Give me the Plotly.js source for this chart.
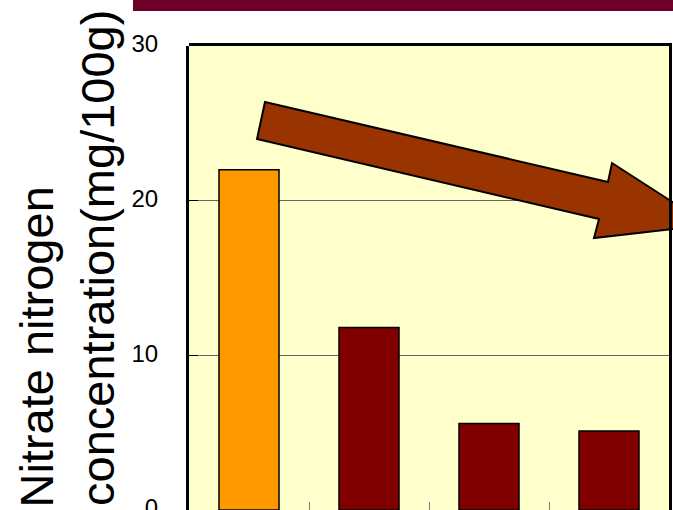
<!DOCTYPE html>
<html>
<head>
<meta charset="utf-8">
<script src="https://cdn.plot.ly/plotly-3.0.1.min.js"></script>
<style>html,body{margin:0;padding:0;background:#fff;}#chart{width:673px;height:510px;}</style>
</head>
<body>
<div id="chart"></div>
<script>
// Data
var categories = ["1", "2", "3", "4"];
var nitrateValues = [22.0, 11.8, 5.6, 5.1];
var barColors = ["#FF9900", "#800000", "#800000", "#800000"];
var yTickValues = [0, 10, 20, 30];
var yTickLabels = ["0", "10", "20", "30"];
var yTitleLines = ["Nitrate nitrogen", "concentration(mg/100g)"];

var trace = {
  type: "bar",
  x: categories,
  y: nitrateValues,
  marker: { color: barColors, line: { color: "#000000", width: 1.5 } },
  hoverinfo: "skip"
};

// decorative arrow (paper coordinates)
var arrowPts = [
  [0.1583, 0.8793], [0.8729, 0.7069], [0.8813, 0.7478], [1.0813, 0.6142],
  [0.8438, 0.5862], [0.8542, 0.6272], [0.1417, 0.7996]
];
var arrowPath = arrowPts.map(function (p, i) { return (i ? "L" : "M") + p[0] + "," + p[1]; }).join(" ") + " Z";

var layout = {
  width: 673, height: 510,
  margin: { l: 189, r: 4, t: 46, b: 0, pad: 0 },
  paper_bgcolor: "#FFFFFF",
  plot_bgcolor: "#FFFFCC",
  showlegend: false,
  bargap: 0.5,
  font: { family: "Liberation Sans, Arial, sans-serif", color: "#000000" },
  xaxis: {
    type: "category",
    showticklabels: false,
    ticks: "inside", tickson: "boundaries", ticklen: 8, tickcolor: "#808080", tickwidth: 1,
    showgrid: false, zeroline: false, showline: false,
    fixedrange: true
  },
  yaxis: {
    range: [0, 30],
    tickvals: yTickValues, ticktext: yTickLabels,
    tickfont: { size: 24, family: "Liberation Sans, Arial, sans-serif" },
    ticks: "inside", ticklen: 9, tickcolor: "#000000", tickwidth: 1,
    ticklabelstandoff: 23,
    ticklabelshift: -2,
    ticklabeloverflow: "allow",
    showgrid: true, gridcolor: "#666666", gridwidth: 1,
    zeroline: false,
    showline: true, linecolor: "#000000", linewidth: 3,
    fixedrange: true
  },
  shapes: [
    { type: "rect", xref: "paper", yref: "paper", x0: -0.1167, x1: 1.02, y0: 1.0754, y1: 1.11,
      fillcolor: "#6F0029", line: { width: 0 }, layer: "above" },
    { type: "path", xref: "paper", yref: "paper", path: arrowPath,
      fillcolor: "#993300", line: { color: "#000000", width: 2 }, layer: "above" },
    { type: "line", xref: "paper", yref: "paper", x0: 0, x1: 1.006, y0: 1.0032, y1: 1.0032,
      line: { color: "#000000", width: 3 }, layer: "above" },
    { type: "line", xref: "paper", yref: "paper", x0: 1.003125, x1: 1.003125, y0: 0, y1: 1.0065,
      line: { color: "#000000", width: 3 }, layer: "above" }
  ],
  annotations: [
    { text: yTitleLines[0], xref: "paper", yref: "paper", x: -0.3167, y: 0.002,
      xanchor: "center", yanchor: "bottom", textangle: -90, showarrow: false,
      font: { size: 47, family: "Liberation Sans, Arial, sans-serif", color: "#000000" } },
    { text: yTitleLines[1], xref: "paper", yref: "paper", x: -0.1917, y: 0.0043,
      xanchor: "center", yanchor: "bottom", textangle: -90, showarrow: false,
      font: { size: 47, family: "Liberation Sans, Arial, sans-serif", color: "#000000" } }
  ]
};

Plotly.newPlot("chart", [trace], layout, { staticPlot: true, displayModeBar: false });
</script>
</body>
</html>
